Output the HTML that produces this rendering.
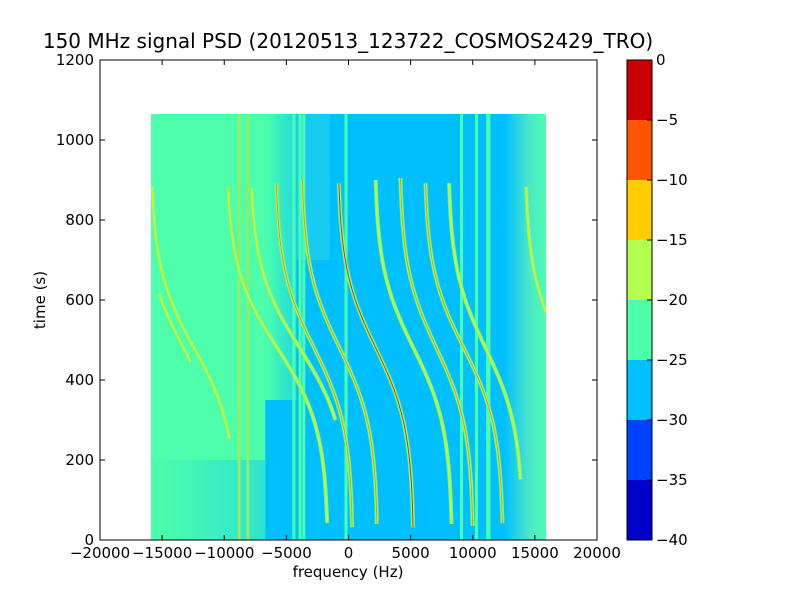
<!DOCTYPE html>
<html><head><meta charset="utf-8"><style>
body{margin:0;background:#fff;}
svg text{font-family:"DejaVu Sans","Liberation Sans",sans-serif;}
</style></head><body>
<svg id="c" width="800" height="600" xmlns="http://www.w3.org/2000/svg">
<defs><clipPath id="dclip"><rect x="151" y="114" width="395" height="426"/></clipPath>
<linearGradient id="lgrad" x1="0" x2="1"><stop offset="0" stop-color="#4dffaa"/><stop offset="1" stop-color="#20d8e0"/></linearGradient>
<linearGradient id="rgrad" x1="0" x2="1"><stop offset="0" stop-color="#00bfff"/><stop offset="0.6" stop-color="#4de8c8"/><stop offset="1" stop-color="#4dffaa"/></linearGradient>
</defs>
<rect x="0" y="0" width="800" height="600" fill="#fff"/>
<text x="348" y="48" font-size="20" text-anchor="middle">150 MHz signal PSD (20120513_123722_COSMOS2429_TRO)</text>
<g id="data" clip-path="url(#dclip)"></g>
<rect x="100" y="60" width="497" height="480" fill="none" stroke="#000" stroke-width="1"/>
<g id="axes"></g>
<text x="348" y="577" font-size="15" text-anchor="middle">frequency (Hz)</text>
<text transform="translate(45,300) rotate(-90)" font-size="15" text-anchor="middle">time (s)</text>
<g id="cbar"></g>
</svg>
<script>
const NS="http://www.w3.org/2000/svg";
const xTicks=[-20000,-15000,-10000,-5000,0,5000,10000,15000,20000];
const yTicks=[0,200,400,600,800,1000,1200];
const cbTicks=[0,-5,-10,-15,-20,-25,-30,-35,-40];
const cbColors=["#cc0000","#ff5500","#ffcc00","#b3ff4d","#4dffaa","#00bfff","#0040ff","#0000cc"];
// tracks: frequency at top start, freq at bottom end, start time, end time
const trackFTop=[-770,-5800,-3700,2200,4200,6200,8100,-15800,-9700,-7800,-16500,14300];
const trackFBot=[5200,300,2300,8300,10000,12400,14000,-9000,-1700,0,-10000,20000];
const trackTStart=[892,892,900,900,905,892,892,883,883,880,615,883];
const trackTEnd=[25,30,35,35,35,40,150,250,40,300,440,560];
const trackMain=[2,1,1,0,1,1,0,0,0,0,0,0];
// vertical carrier lines (Hz)
const lineFreqs=[-8800,-8100,-4400,-3900,-3600,-200,9100,10300,11200,11300];
const lineYellow=[1,1,0,0,0,0,0,0,0,0];

const X=f=>100+(f+20000)/40000*497;
const Y=t=>540-t/1200*480;
function el(tag,attrs,parent,name){const e=document.createElementNS(NS,tag);for(const k in attrs)e.setAttribute(k,attrs[k]);


parent.appendChild(e);return e;}
const d=document.getElementById('data');
el('rect',{x:X(-16000),y:Y(1065),width:X(16000)-X(-16000),height:Y(0)-Y(1065),fill:"#00bfff"},d,'background-noise');
el('rect',{x:X(-16000),y:Y(1065),width:X(-6700)-X(-16000),height:Y(0)-Y(1065),fill:"#4dffaa"},d,'left-noise-region');
el('rect',{x:X(-16000),y:Y(200),width:X(-6700)-X(-16000),height:Y(0)-Y(200),fill:"url(#lgrad)",opacity:0.7},d,'left-lower-noise');
el('rect',{x:X(-6700),y:Y(1065),width:X(-4200)-X(-6700),height:Y(350)-Y(1065),fill:"url(#lgrad)"},d,'mid-noise-region');
el('rect',{x:X(-4200),y:Y(1065),width:X(-1500)-X(-4200),height:Y(700)-Y(1065),fill:"#30d8e8",opacity:0.5},d,'upper-noise-region');
el('rect',{x:X(12500),y:Y(1065),width:X(16000)-X(12500),height:Y(0)-Y(1065),fill:"url(#rgrad)"},d,'right-noise-region');
lineFreqs.forEach((f,i)=>{
 el('line',{x1:X(f),x2:X(f),y1:Y(1065),y2:Y(0),stroke:"#4dffaa","stroke-width":3},d,'carrier-line');
 if(lineYellow[i]) el('line',{x1:X(f),x2:X(f),y1:Y(1065),y2:Y(0),stroke:"#ffcc00","stroke-width":1.2},d,'carrier-line-core');
});
trackFTop.forEach((ft,i)=>{
 const t0=480,w=200,th1=Math.tanh((890-t0)/w),th2=Math.tanh((20-t0)/w);
 const A=(trackFBot[i]-ft)/(th1-th2), c=ft+A*th1;
 let p="";
 for(let t=trackTStart[i];t>=trackTEnd[i];t-=10){const f=c-A*Math.tanh((t-t0)/w);p+=(p?"L":"M")+X(f).toFixed(1)+","+Y(t).toFixed(1);}
 el('path',{d:p,fill:"none",stroke:"#4dffaa","stroke-width":4},d,'doppler-track-halo');
 el('path',{d:p,fill:"none",stroke:"#b3ff4d","stroke-width":2.2},d,'doppler-track');
 el('path',{d:p,fill:"none",stroke:trackMain[i]==2?"#ee2200":(trackMain[i]?"#ff8800":"#ffdd00"),"stroke-width":1},d,'doppler-track-core');
});
const ax=document.getElementById('axes');
const fmt=v=>v<0?"\u2212"+(-v):""+v;
xTicks.forEach(v=>{const x=X(v);
 el('line',{x1:x,x2:x,y1:540,y2:535,stroke:"#000"},ax,'x-tick');
 el('line',{x1:x,x2:x,y1:60,y2:65,stroke:"#000"},ax,'x-tick-top');
 const t=el('text',{x:x,y:558,"font-size":15,"text-anchor":"middle"},ax,'x-tick-label');t.textContent=fmt(v);});
yTicks.forEach(v=>{const y=Y(v);
 el('line',{x1:100,x2:105,y1:y,y2:y,stroke:"#000"},ax,'y-tick');
 el('line',{x1:597,x2:592,y1:y,y2:y,stroke:"#000"},ax,'y-tick-right');
 const t=el('text',{x:94,y:y+5,"font-size":15,"text-anchor":"end"},ax,'y-tick-label');t.textContent=v;});
const cb=document.getElementById('cbar');
cbColors.forEach((col,i)=>el('rect',{x:627,y:60+i*60,width:25,height:60,fill:col},cb,'colorbar-band'));
el('rect',{x:627,y:60,width:25,height:480,fill:"none",stroke:"#000"},cb,'colorbar-frame');
cbTicks.forEach((v,i)=>{const y=60+i*60;
 el('line',{x1:647,x2:652,y1:y,y2:y,stroke:"#000"},cb,'colorbar-tick');
 const t=el('text',{x:656,y:y+5,"font-size":15},cb,'colorbar-tick-label');t.textContent=fmt(v);});
</script>
</body></html>
